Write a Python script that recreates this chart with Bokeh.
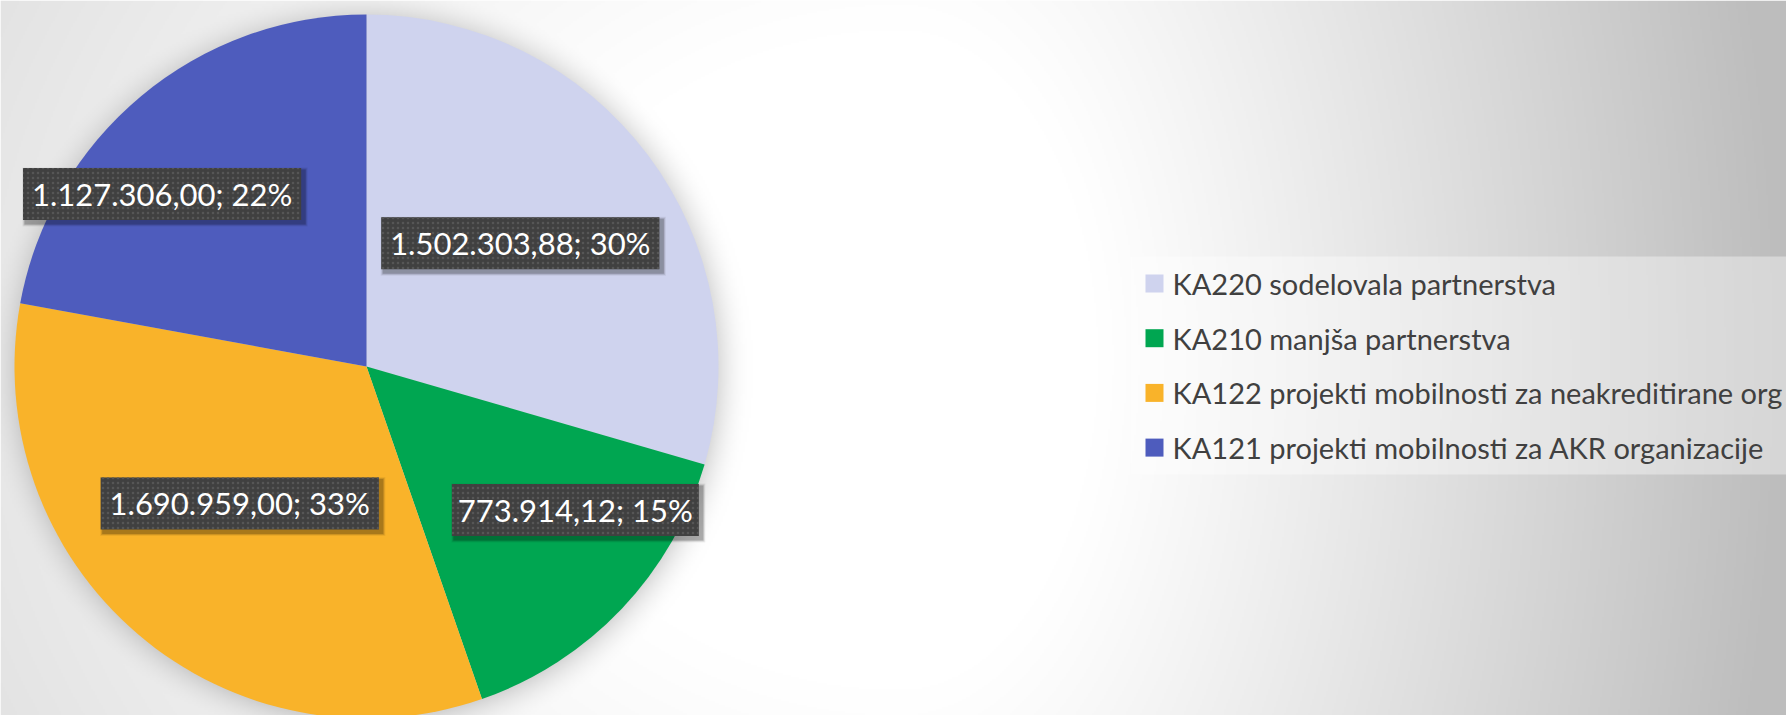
import numpy as np
from bokeh.plotting import figure
from bokeh.models import Range1d
from bokeh.core.properties import value
from bokeh.embed import file_html
from bokeh.resources import INLINE

# ---------------- data ----------------
categories = [
    "KA220 sodelovala partnerstva",
    "KA210 manjša partnerstva",
    "KA122 projekti mobilnosti za neakreditirane org",
    "KA121 projekti mobilnosti za AKR organizacije",
]
amounts = [1502303.88, 773914.12, 1690959.00, 1127306.00]
percents = [30, 15, 33, 22]  # as printed on the chart's labels
colors = ["#CFD3EE", "#00A651", "#F9B32A", "#4E5CBD"]

# label placement inside the slices (fraction of radius, angular nudge in degrees)
label_rfrac = [0.56, 0.72, 0.53, 0.76]
label_dang = [-1.8, -9.0, 2.2, -10.0]

W, H = 1786, 715
CX, CY, R = 366, 366, 352  # pie centre (pixels from top-left) and radius


def fmt_eu(v):
    s = f"{v:,.2f}"
    return s.replace(",", "X").replace(".", ",").replace("X", ".")


total = sum(amounts)
fracs = [a / total for a in amounts]
cum = np.cumsum([0.0] + fracs)

p = figure(width=W, height=H, output_backend="svg", toolbar_location=None,
           x_range=Range1d(0, W), y_range=Range1d(0, H), min_border=0)
p.axis.visible = False
p.grid.visible = False
p.outline_line_color = None
p.background_fill_color = "white"
p.border_fill_color = "white"

# ---------------- background gradient + pie soft shadow ----------------
s = 2
hh, ww = H // s, W // s
ys_px = (H - (np.arange(hh) + 0.5) * s)[:, None]
xs_px = ((np.arange(ww) + 0.5) * s)[None, :]
gx, gy = 900.0, 360.0
sx = np.where(xs_px >= gx, 900.0, 1750.0)
r = np.sqrt(((xs_px - gx) / sx) ** 2 + ((ys_px - gy) / 1500.0) ** 2)
t = np.clip((r - 0.22) / 0.76, 0, 1)
val = 255 - 66 * t ** 1.1
dist = np.sqrt((xs_px - (CX + 2)) ** 2 + (ys_px - (CY + 3)) ** 2)
sh = np.clip(1 - (dist - 348) / 36.0, 0, 1) ** 2 * 0.15
val = val * (1 - sh)
val = np.clip(val, 0, 255).astype(np.uint8)
img = np.empty((hh, ww), dtype=np.uint32)
view = img.view(dtype=np.uint8).reshape((hh, ww, 4))
view[:, :, 0] = val
view[:, :, 1] = val
view[:, :, 2] = val
view[:, :, 3] = 255
p.image_rgba(image=[img], x=0, y=0, dw=W, dh=H)

# ---------------- pie ----------------
starts = [np.pi / 2 - 2 * np.pi * cum[i] for i in range(len(amounts))]
ends = [np.pi / 2 - 2 * np.pi * cum[i + 1] for i in range(len(amounts))]
p.wedge(x=CX, y=H - CY, radius=R, start_angle=starts, end_angle=ends,
        direction="clock", fill_color=colors, line_color=None)

# ---------------- data labels ----------------
labels = [f"{fmt_eu(a)}; {pc:d}%" for a, pc in zip(amounts, percents)]
mids = [(cum[i] + fracs[i] / 2) * 2 * np.pi + np.radians(label_dang[i]) for i in range(len(amounts))]
lx = [CX + label_rfrac[i] * R * np.sin(mids[i]) for i in range(len(amounts))]
ly = [H - (CY - label_rfrac[i] * R * np.cos(mids[i])) for i in range(len(amounts))]
bw = [15.6 * len(lb) + 13 for lb in labels]
bh = 52
# shadows
for k, a in [(3, 0.18), (5, 0.12), (7, 0.06)]:
    p.rect(x=[x + 3 for x in lx], y=[y - 3 for y in ly], width=[w + k for w in bw], height=bh + k,
           fill_color="black", fill_alpha=a, line_color=None)
p.rect(x=lx, y=ly, width=bw, height=bh, fill_color="#404040", line_color=None,
       hatch_pattern="dot", hatch_color="#565656", hatch_scale=5, hatch_weight=1.2)
p.text(x=lx, y=ly, text=labels, text_font=value("Lato"), text_font_size="31px",
       text_color="white", text_align="center", text_baseline="middle")

# ---------------- legend ----------------
LX0, LY0, LY1 = 1130, 256, 474
p.quad(left=LX0, right=W + 10, top=H - LY0, bottom=H - LY1,
       fill_color="white", fill_alpha=0.38, line_color=None)
row_y = [283 + 54.7 * i for i in range(len(categories))]
p.rect(x=1154, y=[H - y for y in row_y], width=18, height=18,
       fill_color=colors, line_color=None)
p.text(x=1172, y=[H - y for y in row_y], text=categories, text_font=value("Lato"),
       text_font_size="29px", text_color="#404040", text_align="left",
       text_baseline="middle")

open("out.html", "w").write(file_html(p, INLINE))
